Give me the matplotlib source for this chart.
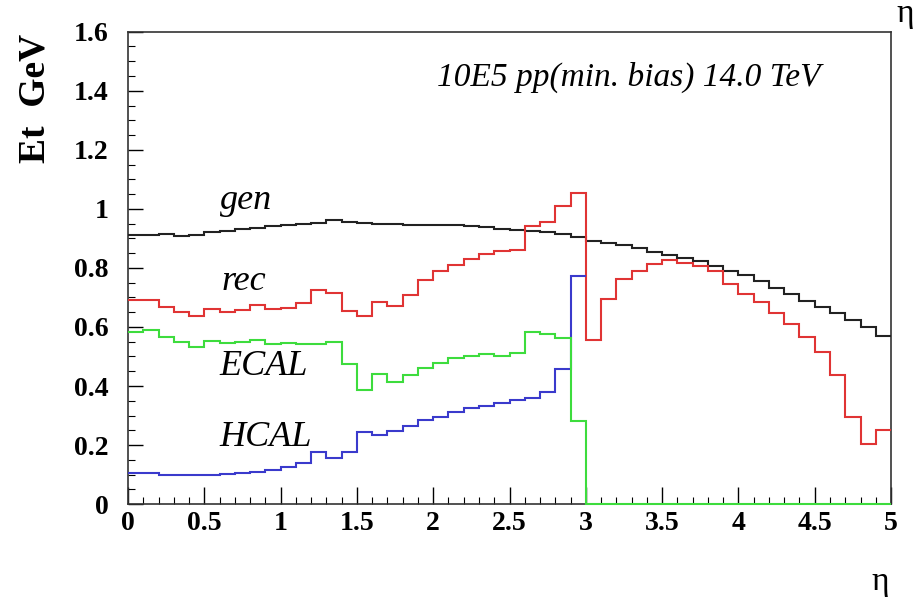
import numpy as np
import matplotlib
matplotlib.use('Agg')
import matplotlib.pyplot as plt
from matplotlib.ticker import MultipleLocator, FuncFormatter

# transverse energy per 0.1 bin in eta, 10E5 min. bias pp events at 14 TeV
eta_edges = np.linspace(0.0, 5.0, 51)

gen = [0.913, 0.912, 0.915, 0.909, 0.913, 0.921, 0.926, 0.931, 0.936, 0.941,
       0.944, 0.948, 0.953, 0.962, 0.957, 0.953, 0.950, 0.948, 0.946, 0.944,
       0.947, 0.945, 0.942, 0.938, 0.933, 0.928, 0.924, 0.920, 0.914, 0.906,
       0.890, 0.884, 0.878, 0.867, 0.853, 0.844, 0.833, 0.822, 0.805, 0.790,
       0.777, 0.754, 0.731, 0.711, 0.688, 0.669, 0.646, 0.624, 0.601, 0.571]

rec = [0.692, 0.692, 0.666, 0.652, 0.637, 0.661, 0.652, 0.658, 0.675, 0.661,
       0.663, 0.680, 0.726, 0.714, 0.654, 0.637, 0.686, 0.671, 0.709, 0.760,
       0.788, 0.811, 0.831, 0.847, 0.856, 0.862, 0.941, 0.956, 1.009, 1.054,
       0.556, 0.694, 0.764, 0.789, 0.813, 0.826, 0.816, 0.805, 0.788, 0.745,
       0.713, 0.685, 0.648, 0.611, 0.567, 0.515, 0.437, 0.294, 0.202, 0.252]

ecal = [0.584, 0.590, 0.567, 0.550, 0.533, 0.552, 0.544, 0.548, 0.556, 0.541,
        0.545, 0.541, 0.541, 0.548, 0.473, 0.386, 0.442, 0.414, 0.437, 0.460,
        0.477, 0.494, 0.500, 0.507, 0.503, 0.511, 0.584, 0.575, 0.562, 0.283,
        0, 0, 0, 0, 0, 0, 0, 0, 0, 0,
        0, 0, 0, 0, 0, 0, 0, 0, 0, 0]

# HCAL barrel+endcap only, stops at eta = 3
hcal = [0.106, 0.104, 0.098, 0.097, 0.098, 0.100, 0.103, 0.106, 0.110, 0.115,
        0.125, 0.140, 0.178, 0.156, 0.175, 0.245, 0.235, 0.247, 0.265, 0.284,
        0.296, 0.313, 0.324, 0.333, 0.341, 0.352, 0.360, 0.380, 0.457, 0.771]

y_ticks = [0, 0.2, 0.4, 0.6, 0.8, 1.0, 1.2, 1.4, 1.6]

serif = ['Liberation Serif', 'DejaVu Serif']

fig = plt.figure(figsize=(9.15, 6.03), dpi=100)
ax = fig.add_axes([0.1399, 0.164, 0.8339, 0.7834])

lw = 1.5
ax.stairs(gen, eta_edges, baseline=None, color='#222222', lw=lw, zorder=3)
ax.stairs(rec, eta_edges, baseline=None, color='#e03434', lw=lw, zorder=3)
ax.stairs(hcal, eta_edges[:len(hcal) + 1], baseline=None, color='#3a3acc',
          lw=lw, zorder=3)
ax.stairs(ecal, eta_edges, baseline=None, color='#3ddc3d', lw=lw, zorder=4,
          clip_on=False)

ax.set_xlim(0, 5)
ax.set_ylim(0, 1.6)

ax.xaxis.set_major_locator(MultipleLocator(0.5))
ax.xaxis.set_minor_locator(MultipleLocator(0.1))
ax.set_yticks(y_ticks)
ax.yaxis.set_minor_locator(MultipleLocator(0.05))
fmt = FuncFormatter(lambda v, pos: '%g' % round(v, 2))
ax.xaxis.set_major_formatter(fmt)
ax.yaxis.set_major_formatter(fmt)

ax.tick_params(axis='x', which='major', direction='in', length=12, width=1,
               pad=5, top=False)
ax.tick_params(axis='x', which='minor', direction='in', length=5, width=0.8,
               top=False)
ax.tick_params(axis='y', which='major', direction='in', length=11, width=1,
               pad=14, right=False)
ax.tick_params(axis='y', which='minor', direction='in', length=5, width=0.8,
               right=False)
for lab in ax.get_xticklabels() + ax.get_yticklabels():
    lab.set_family(serif)
    lab.set_fontweight('bold')
    lab.set_fontsize(20)

for sp in ax.spines.values():
    sp.set_linewidth(1.2)
    sp.set_color('#333333')

# curve labels
lab_kw = dict(family=serif, style='italic', fontsize=26, va='center', ha='left')
ax.text(0.60, 1.03, 'gen', **lab_kw)
ax.text(0.61, 0.755, 'rec', **lab_kw)
ax.text(0.60, 0.467, 'ECAL', **lab_kw)
ax.text(0.60, 0.227, 'HCAL', **lab_kw)

ax.text(3.28, 1.446, '10E5 pp(min. bias) 14.0 TeV', family=serif,
        style='italic', fontsize=24, ha='center', va='center')

fig.text(35 / 915, 1 - 98 / 603, 'Et  GeV', family=serif, fontweight='bold',
         fontsize=27, rotation=90, ha='center', va='center')
fig.text(905 / 915, 1 - 14 / 603, 'η', family=serif, fontsize=24,
         ha='center', va='center')
fig.text(880 / 915, 1 - 582 / 603, 'η', family=serif, fontsize=24,
         ha='center', va='center')

fig.savefig('out.png', dpi=100, facecolor='white')
